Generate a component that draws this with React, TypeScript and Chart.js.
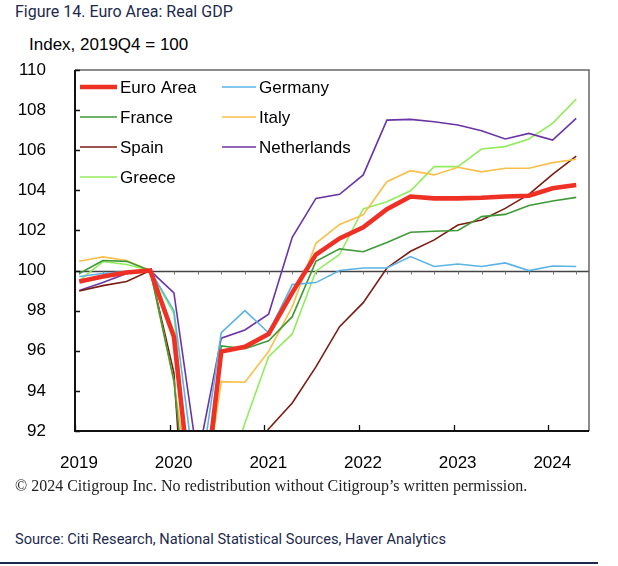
import React, { useEffect, useRef } from "react";
import { Chart, registerables } from "chart.js";
Chart.register(...registerables);

const quarters = [
  "2019Q1", "2019Q2", "2019Q3", "2019Q4",
  "2020Q1", "2020Q2", "2020Q3", "2020Q4",
  "2021Q1", "2021Q2", "2021Q3", "2021Q4",
  "2022Q1", "2022Q2", "2022Q3", "2022Q4",
  "2023Q1", "2023Q2", "2023Q3", "2023Q4",
  "2024Q1", "2024Q2",
];

const euroArea = [99.45, 99.7, 99.9, 100, 96.7, 85.9, 95.96, 96.2, 96.83, 98.9, 100.8, 101.6, 102.16, 103.06, 103.69, 103.6, 103.6, 103.63, 103.69, 103.73, 104.1, 104.27];
const germany = [99.7, 99.85, 99.95, 100, 98.0, 88.8, 96.9, 98.0, 96.9, 99.3, 99.4, 100.0, 100.13, 100.13, 100.7, 100.2, 100.33, 100.2, 100.38, 100.0, 100.23, 100.2];
const france = [99.85, 100.5, 100.46, 100, 94.5, 83.0, 96.24, 96.1, 96.5, 97.7, 100.46, 101.08, 100.94, 101.4, 101.91, 101.96, 102.0, 102.69, 102.8, 103.24, 103.47, 103.65];
const italy = [100.46, 100.68, 100.5, 100, 94.46, 86.5, 94.46, 94.43, 95.96, 98.2, 101.36, 102.3, 102.78, 104.43, 104.98, 104.77, 105.15, 104.92, 105.1, 105.1, 105.38, 105.55];
const spain = [98.98, 99.25, 99.45, 100, 94.9, 77.5, 90.3, 90.5, 92.1, 93.4, 95.2, 97.2, 98.4, 100.13, 100.96, 101.53, 102.27, 102.52, 103.1, 103.8, 104.8, 105.71];
const netherlands = [99.0, 99.4, 99.85, 100, 98.89, 90.6, 96.63, 97.04, 97.82, 101.66, 103.6, 103.8, 104.77, 107.5, 107.54, 107.42, 107.26, 106.97, 106.56, 106.84, 106.51, 107.59];
const greece = [99.5, 100.45, 100.3, 100, 97.85, 84.5, 88.7, 92.4, 95.7, 96.84, 99.97, 100.8, 103.07, 103.43, 103.98, 105.18, 105.18, 106.06, 106.18, 106.56, 107.34, 108.55];

const yearTicks = [2019, 2020, 2021, 2022, 2023, 2024];
const yTicks = [92, 94, 96, 98, 100, 102, 104, 106, 108, 110];

const seriesNames = ["Euro Area", "Germany", "France", "Italy", "Spain", "Netherlands", "Greece"];
const seriesValues = [euroArea, germany, france, italy, spain, netherlands, greece];
const seriesColors = ["#ee3124", "#5ab4e6", "#3e9a36", "#f8bf4a", "#7b1c12", "#6b34a4", "#92ec5e"];
const seriesWidths = [4.6, 1.6, 1.6, 1.6, 1.6, 1.6, 1.6];

// quarter label -> position on the time axis (year fraction)
const qx = (q: string) => {
  const yr = parseInt(q.slice(0, 4), 10);
  const qi = parseInt(q.slice(5), 10);
  return yr + (qi - 1) / 4 + 0.045;
};

const FONT = "'Liberation Sans', Arial, sans-serif";

const decorPlugin = {
  id: "decor",
  beforeDatasetsDraw(chart: any) {
    const { ctx, chartArea, scales } = chart;
    const { left, right } = chartArea;
    const y = scales.y;
    const x = scales.x;
    const yy = Math.round(y.getPixelForValue(100)) + 0.5;
    ctx.save();
    ctx.strokeStyle = "#444";
    ctx.lineWidth = 1.5;
    ctx.beginPath();
    ctx.moveTo(left, yy);
    ctx.lineTo(right, yy);
    ctx.stroke();
    ctx.strokeStyle = "#777";
    ctx.lineWidth = 1;
    ctx.beginPath();
    quarters.forEach((q) => {
      const px = Math.round(x.getPixelForValue(qx(q))) + 0.5;
      ctx.moveTo(px, yy);
      ctx.lineTo(px, yy + 3);
    });
    ctx.stroke();
    ctx.restore();
  },
  afterDatasetsDraw(chart: any) {
    const { ctx, chartArea, scales } = chart;
    const { left, right, top, bottom } = chartArea;
    const x = scales.x;
    const y = scales.y;
    ctx.save();
    ctx.strokeStyle = "#666";
    ctx.lineWidth = 1.5;
    ctx.beginPath();
    ctx.moveTo(left, top);
    ctx.lineTo(right, top);
    ctx.lineTo(right, bottom);
    ctx.stroke();
    ctx.strokeStyle = "#111";
    ctx.lineWidth = 2;
    ctx.beginPath();
    ctx.moveTo(left, top);
    ctx.lineTo(left, bottom);
    ctx.lineTo(right, bottom);
    ctx.stroke();
    ctx.lineWidth = 1.3;
    ctx.beginPath();
    yTicks.forEach((v) => {
      const py = Math.round(y.getPixelForValue(v)) + 0.5;
      ctx.moveTo(left, py);
      ctx.lineTo(left + 5, py);
    });
    yearTicks.forEach((v) => {
      const px = Math.round(x.getPixelForValue(v)) + 0.5;
      ctx.moveTo(px, bottom);
      ctx.lineTo(px, bottom - 6);
    });
    ctx.stroke();
    ctx.restore();
  },
  afterDraw(chart: any) {
    const { ctx } = chart;
    ctx.save();
    ctx.font = `17px ${FONT}`;
    ctx.textBaseline = "middle";
    ctx.fillStyle = "#000";
    const cols = [
      { lx0: 80, lx1: 117, tx: 120 },
      { lx0: 222, lx1: 256, tx: 259 },
    ];
    const rows = [87, 117, 147, 177];
    seriesNames.forEach((name, i) => {
      const col = cols[i % 2];
      const ry = rows[Math.floor(i / 2)];
      ctx.strokeStyle = seriesColors[i];
      ctx.lineWidth = seriesWidths[i];
      ctx.beginPath();
      ctx.moveTo(col.lx0, ry);
      ctx.lineTo(col.lx1, ry);
      ctx.stroke();
      ctx.fillText(name, col.tx, ry + 1);
    });
    ctx.restore();
  },
};

export default function App() {
  const ref = useRef<HTMLCanvasElement | null>(null);

  useEffect(() => {
    if (!ref.current) return;
    const chart = new Chart(ref.current, {
      type: "line",
      data: {
        datasets: seriesNames.map((name, i) => ({
          label: name,
          data: quarters.map((q, j) => ({ x: qx(q), y: seriesValues[i][j] })),
          borderColor: seriesColors[i],
          backgroundColor: seriesColors[i],
          borderWidth: seriesWidths[i],
          pointRadius: 0,
          tension: 0,
          fill: false,
        })),
      },
      options: {
        animation: false,
        responsive: false,
        maintainAspectRatio: false,
        layout: { padding: { top: 70, right: 29, bottom: 9, left: 0 } },
        plugins: {
          legend: { display: false },
          tooltip: { enabled: false },
        },
        scales: {
          x: {
            type: "linear",
            min: 2019,
            max: 2024.43,
            grid: { display: false },
            border: { display: false },
            afterBuildTicks: (scale: any) => {
              scale.ticks = yearTicks.map((v) => ({ value: v }));
            },
            afterFit: (scale: any) => {
              scale.height = 40;
            },
            ticks: {
              autoSkip: false,
              maxRotation: 0,
              padding: 14,
              labelOffset: 4,
              color: "#000",
              font: { family: FONT, size: 17 },
              callback: (v: any) => String(v),
            },
          },
          y: {
            min: 92,
            max: 110,
            grid: { display: false },
            border: { display: false },
            afterBuildTicks: (scale: any) => {
              scale.ticks = yTicks.map((v) => ({ value: v }));
            },
            afterFit: (scale: any) => {
              scale.width = 75;
            },
            ticks: {
              padding: 21,
              color: "#000",
              font: { family: FONT, size: 17 },
              callback: (v: any) => String(v),
            },
          },
        },
      },
      plugins: [decorPlugin],
    });
    return () => chart.destroy();
  }, []);

  return (
    <div style={{ position: "absolute", left: 0, top: 0, width: 618, height: 566, background: "#fff" }}>
      <div
        style={{
          position: "absolute", left: 15, top: 2, fontFamily: "Roboto, 'Noto Sans', sans-serif",
          fontSize: 16, lineHeight: "20px", color: "#1c2a4d", whiteSpace: "nowrap",
        }}
      >
        Figure 14. Euro Area: Real GDP
      </div>
      <div
        style={{
          position: "absolute", left: 29, top: 34, fontFamily: FONT,
          fontSize: 17, lineHeight: "22px", color: "#000", whiteSpace: "nowrap",
        }}
      >
        Index, 2019Q4 = 100
      </div>
      <canvas ref={ref} width={618} height={480} style={{ position: "absolute", left: 0, top: 0, width: 618, height: 480 }} />
      <div
        style={{
          position: "absolute", left: 15, top: 475, fontFamily: "'Liberation Serif', 'Times New Roman', serif",
          fontSize: 16, lineHeight: "22px", color: "#222", whiteSpace: "nowrap",
        }}
      >
        © 2024 Citigroup Inc. No redistribution without Citigroup’s written permission.
      </div>
      <div
        style={{
          position: "absolute", left: 15, top: 528, fontFamily: "Roboto, 'Noto Sans', sans-serif",
          fontSize: 14.6, lineHeight: "22px", color: "#1c2a4d", whiteSpace: "nowrap",
        }}
      >
        Source: Citi Research, National Statistical Sources, Haver Analytics
      </div>
      <div style={{ position: "absolute", left: 0, top: 562, width: 598, height: 2, background: "#1c2a4d" }} />
    </div>
  );
}
